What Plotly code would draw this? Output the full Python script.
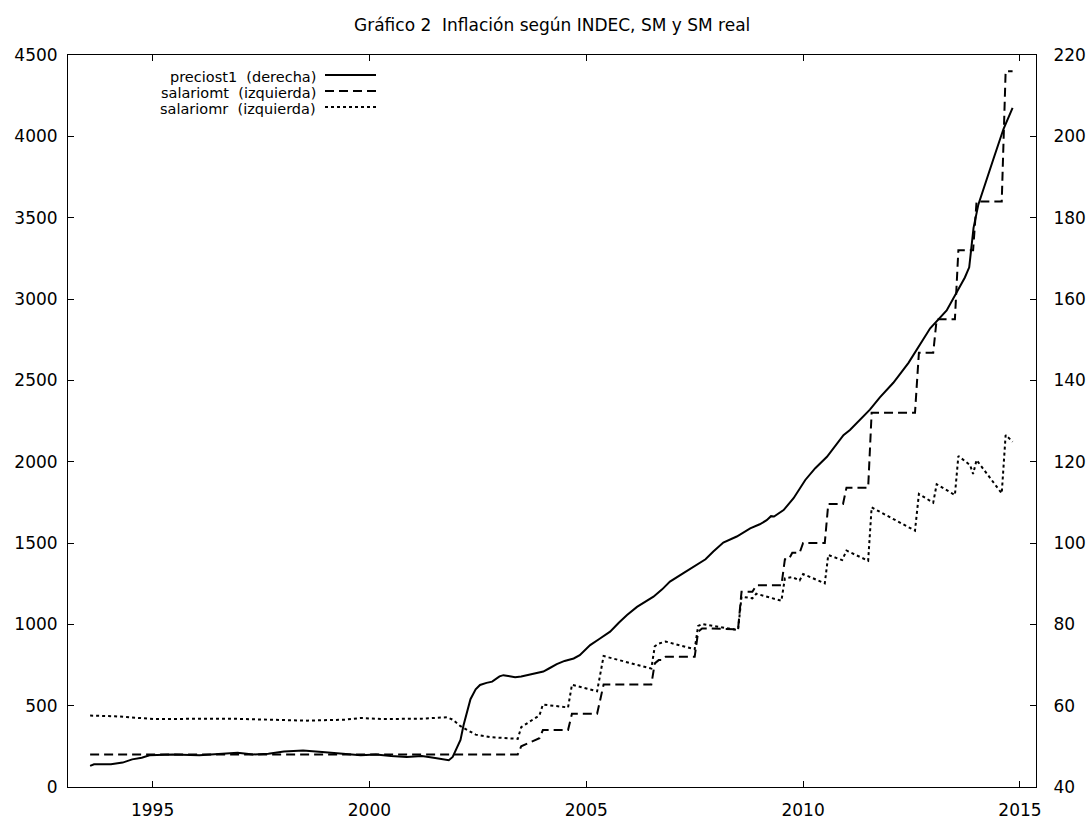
import plotly.graph_objects as go

# ---------------- data ----------------
# preciost1 (right axis)
precio_x = [1993.56, 1993.65, 1994.04, 1994.31, 1994.53, 1994.75, 1994.93, 1995.46, 1996.08, 1996.60,
            1996.96, 1997.32, 1997.67, 1998.03, 1998.47, 1998.91, 1999.27, 1999.80, 2000.15, 2000.50,
            2000.86, 2001.21, 2001.48, 2001.83, 2001.92, 2002.10, 2002.17, 2002.25, 2002.33, 2002.45,
            2002.55, 2002.70, 2002.83, 2003.00, 2003.09, 2003.20, 2003.36, 2003.50, 2003.70, 2004.01,
            2004.15, 2004.32, 2004.50, 2004.71, 2004.85, 2005.09, 2005.30, 2005.55, 2005.75, 2005.94,
            2006.17, 2006.35, 2006.55, 2006.75, 2006.93, 2007.24, 2007.55, 2007.75, 2007.93, 2008.16,
            2008.47, 2008.78, 2009.00, 2009.16, 2009.26, 2009.33, 2009.55, 2009.78, 2010.05, 2010.28,
            2010.55, 2010.93, 2011.08, 2011.39, 2011.54, 2011.77, 2012.08, 2012.43, 2012.66, 2012.93,
            2013.31, 2013.50, 2013.73, 2013.83, 2013.93, 2014.04, 2014.16, 2014.39, 2014.62, 2014.83]
precio_y = [45.2, 45.6, 45.6, 46.0, 46.8, 47.2, 47.8, 48.0, 47.8, 48.2,
            48.4, 48.0, 48.2, 48.7, 49.0, 48.6, 48.2, 47.8, 48.0, 47.6,
            47.4, 47.6, 47.2, 46.6, 47.4, 51.6, 55.2, 58.4, 61.6, 64.0,
            65.1, 65.6, 65.9, 67.2, 67.5, 67.3, 67.0, 67.2, 67.6, 68.4,
            69.2, 70.2, 71.0, 71.6, 72.4, 74.9, 76.4, 78.2, 80.4, 82.3,
            84.3, 85.4, 86.8, 88.6, 90.5, 92.6, 94.6, 96.0, 97.9, 100.1,
            101.6, 103.6, 104.6, 105.6, 106.6, 106.5, 108.1, 111.0, 115.5, 118.4,
            121.2, 126.5, 127.8, 131.2, 132.8, 135.8, 139.4, 144.3, 148.3, 152.8,
            157.2, 160.8, 165.3, 167.8, 177.5, 183.2, 187.2, 194.5, 201.8, 207.0]

# salariomt (left axis)
smt_x = [1993.56, 2003.42, 2003.50, 2003.58, 2003.67, 2003.75, 2003.83, 2003.92, 2004.00, 2004.58,
         2004.67, 2005.25, 2005.40, 2006.50, 2006.58, 2006.67, 2006.75, 2006.83, 2007.50, 2007.58,
         2007.67, 2008.50, 2008.58, 2008.83, 2008.92, 2009.50, 2009.58, 2009.67, 2009.75, 2009.92,
         2010.00, 2010.50, 2010.58, 2010.92, 2011.00, 2011.50, 2011.58, 2012.58, 2012.67, 2013.00,
         2013.08, 2013.50, 2013.58, 2013.92, 2014.00, 2014.58, 2014.67, 2014.83]
smt_y = [200, 200, 250, 260, 270, 280, 290, 300, 350, 350,
         450, 450, 630, 630, 760, 780, 780, 800, 800, 955,
         975, 970, 1200, 1200, 1240, 1240, 1400, 1400, 1440, 1440,
         1500, 1500, 1740, 1740, 1840, 1840, 2300, 2300, 2670, 2670,
         2875, 2875, 3300, 3300, 3600, 3600, 4400, 4400]

# salariomr (left axis)
smr_x = [1993.56, 1994.13, 1995.02, 1995.90, 1996.79, 1997.67, 1998.56, 1999.44, 1999.80, 2000.33,
         2001.21, 2001.79, 2001.92, 2002.10, 2002.45, 2002.80, 2003.42, 2003.50, 2003.58, 2003.67,
         2003.75, 2003.83, 2003.92, 2004.00, 2004.58, 2004.67, 2005.25, 2005.40, 2006.50, 2006.58,
         2006.67, 2006.83, 2007.50, 2007.58, 2007.67, 2008.50, 2008.58, 2008.83, 2008.92, 2009.50,
         2009.58, 2009.75, 2009.92, 2010.00, 2010.50, 2010.58, 2010.90, 2011.00, 2011.50, 2011.58,
         2012.58, 2012.67, 2013.00, 2013.08, 2013.50, 2013.58, 2013.85, 2013.92, 2014.00, 2014.58,
         2014.67, 2014.83]
smr_y = [439, 435, 418, 418, 420, 414, 408, 414, 424, 418,
         420, 429, 414, 374, 322, 306, 296, 368, 383, 398,
         412, 425, 440, 507, 489, 629, 588, 805, 728, 865,
         882, 894, 847, 990, 1002, 965, 1170, 1160, 1188, 1145,
         1283, 1290, 1270, 1309, 1252, 1426, 1395, 1453, 1391, 1719,
         1576, 1801, 1748, 1861, 1795, 2035, 1979, 1924, 2010, 1805,
         2164, 2123]

x_ticks = [1995, 2000, 2005, 2010, 2015]
y_ticks = [0, 500, 1000, 1500, 2000, 2500, 3000, 3500, 4000, 4500]
y2_ticks = [40, 60, 80, 100, 120, 140, 160, 180, 200, 220]

legend_labels = ["preciost1  (derecha)", "salariomt  (izquierda)", "salariomr  (izquierda)"]

# ---------------- figure ----------------
FONT = "DejaVu Sans, Verdana, sans-serif"
W, H = 1088, 821
ML, MR, MT, MB = 68, 52, 55, 34
DASH = "9px,5px"
DOT = "3px,3px"

fig = go.Figure()
fig.add_trace(go.Scatter(x=precio_x, y=precio_y, mode="lines", yaxis="y2",
                         line=dict(color="black", width=2), showlegend=False))
fig.add_trace(go.Scatter(x=smt_x, y=smt_y, mode="lines",
                         line=dict(color="black", width=2, dash=DASH), showlegend=False))
fig.add_trace(go.Scatter(x=smr_x, y=smr_y, mode="lines",
                         line=dict(color="black", width=2, dash=DOT), showlegend=False))

pw = W - ML - MR
ph = H - MT - MB

def px_x(p):
    return (p - ML) / pw

def px_y(p):
    return (H - MB - p) / ph

annotations = []
shapes = []
rows_y = [76, 92, 108]
styles = [dict(color="black", width=2), dict(color="black", width=2, dash=DASH),
          dict(color="black", width=2, dash=DOT)]
for lab, yy, st in zip(legend_labels, rows_y, styles):
    annotations.append(dict(text=lab, xref="paper", yref="paper", x=px_x(318), y=px_y(yy + 1),
                            xanchor="right", yanchor="middle", showarrow=False,
                            font=dict(family=FONT, size=14.5, color="black")))
    shapes.append(dict(type="line", xref="paper", yref="paper", x0=px_x(325), x1=px_x(376),
                       y0=px_y(yy - 1), y1=px_y(yy - 1), line=st))

annotations.append(dict(text="Gráfico 2  Inflación según INDEC, SM y SM real", xref="paper",
                        yref="paper", x=0.5, y=px_y(25), xanchor="center", yanchor="middle",
                        showarrow=False, font=dict(family=FONT, size=17, color="black")))

axis_common = dict(showgrid=False, zeroline=False, ticks="inside", ticklen=6, tickwidth=1,
                   tickcolor="black", showline=True, linecolor="black", linewidth=1,
                   automargin=False, tickfont=dict(family=FONT, size=17, color="black"))

fig.update_layout(
    width=W, height=H,
    margin=dict(l=ML, r=MR, t=MT, b=MB, pad=0, autoexpand=False),
    paper_bgcolor="white", plot_bgcolor="white",
    showlegend=False,
    xaxis=dict(range=[1993.05, 2015.37], tickvals=x_ticks, ticktext=[str(v) for v in x_ticks],
               mirror="ticks", ticklabelstandoff=8, **axis_common),
    yaxis=dict(range=[0, 4500], tickvals=y_ticks, ticktext=[str(v) for v in y_ticks],
               mirror=True, ticklabelstandoff=6, **axis_common),
    yaxis2=dict(range=[40, 220], tickvals=y2_ticks, ticktext=[str(v) for v in y2_ticks],
                overlaying="y", side="right", ticklabelstandoff=13, **axis_common),
    annotations=annotations,
    shapes=shapes,
)

fig.write_html("out.html")
